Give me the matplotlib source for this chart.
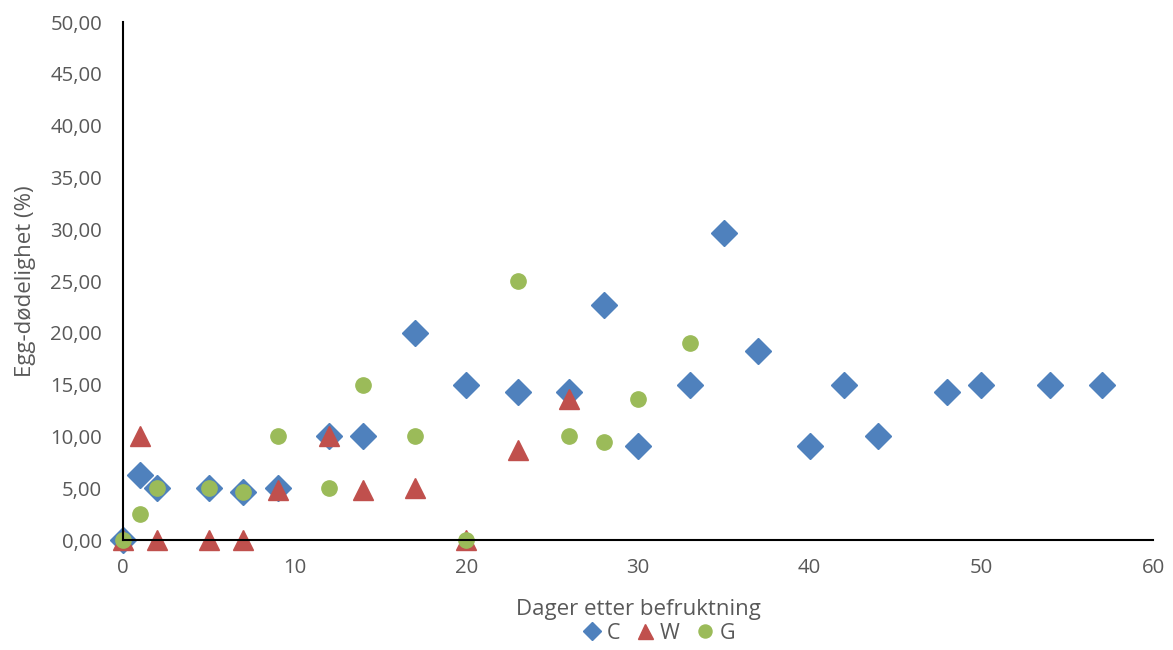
import matplotlib.pyplot as plt
from matplotlib.ticker import FuncFormatter

# dager etter befruktning / egg-dodelighet (%)
c_days = [0, 1, 2, 5, 7, 9, 12, 14, 17, 20, 23, 26, 28, 30, 33, 35, 37, 40, 42, 44, 48, 50, 54, 57]
c_mort = [0, 6.25, 5.0, 5.0, 4.6, 5.0, 10.0, 10.0, 20.0, 15.0, 14.3, 14.3, 22.7, 9.1, 15.0, 29.6,
          18.2, 9.1, 15.0, 10.0, 14.3, 15.0, 15.0, 15.0]

w_days = [0, 1, 2, 5, 7, 9, 12, 14, 17, 20, 23, 26]
w_mort = [0, 10.0, 0, 0, 0, 4.8, 10.0, 4.8, 5.0, 0, 8.7, 13.6]

g_days = [0, 1, 2, 5, 7, 9, 12, 14, 17, 20, 23, 26, 28, 30, 33]
g_mort = [0, 2.5, 5.0, 5.0, 4.6, 10.0, 5.0, 15.0, 10.0, 0, 25.0, 10.0, 9.5, 13.6, 19.0]

plt.rcParams['font.family'] = ['Open Sans', 'DejaVu Sans']
grey = '#595959'

fig = plt.figure(figsize=(11.73, 6.5), dpi=100)
ax = fig.add_axes([0.1049, 0.1692, 0.8781, 0.7968])

ax.plot(c_days, c_mort, ls='none', marker='D', ms=12.8, color='#4f81bd', label='C', clip_on=False)
ax.plot(w_days, w_mort, ls='none', marker='^', ms=14, color='#c0504d', label='W', clip_on=False)
ax.plot(g_days, g_mort, ls='none', marker='o', ms=11, color='#9bbb59', label='G', clip_on=False)

ax.set_xlim(0, 60)
ax.set_ylim(0, 50)
ax.set_xticks(range(0, 61, 10))
ax.set_yticks(range(0, 51, 5))
ax.yaxis.set_major_formatter(FuncFormatter(lambda v, p: f'{v:.2f}'.replace('.', ',')))

for side in ['top', 'right']:
    ax.spines[side].set_visible(False)
for side in ['left', 'bottom']:
    ax.spines[side].set_color('black')
    ax.spines[side].set_linewidth(1.5)
ax.tick_params(length=0, labelsize=14.7, colors=grey)
ax.tick_params(axis='y', pad=15)
ax.tick_params(axis='x', pad=13)

ax.set_xlabel('Dager etter befruktning', fontsize=16, color=grey, va='center')
ax.set_ylabel('Egg-dødelighet (%)', fontsize=16, color=grey, va='center')
ax.xaxis.set_label_coords(0.5, -0.135)
ax.yaxis.set_label_coords(-0.095, 0.5)

leg = fig.legend(loc='center', bbox_to_anchor=(0.561, 0.026), ncol=3, frameon=False,
                 fontsize=15.5, handlelength=1.0, handletextpad=0.2, columnspacing=0.65)
for t in leg.get_texts():
    t.set_color(grey)
for h, s in zip(leg.legend_handles, [8.7, 10.8, 9.4]):
    h.set_markersize(s)

fig.savefig('out.png')
